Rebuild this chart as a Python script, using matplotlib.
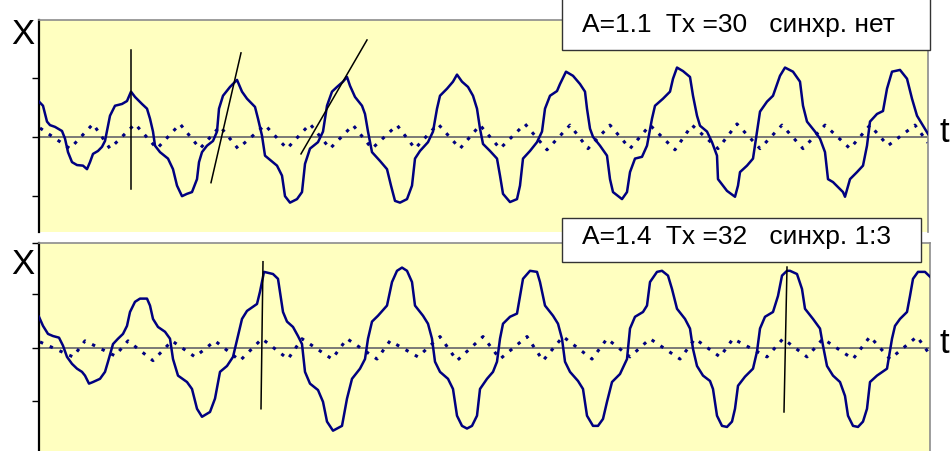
import matplotlib.pyplot as plt
from matplotlib.patches import Rectangle

plt.rcParams['font.family'] = ['Liberation Sans', 'DejaVu Sans']

# ==========================================
# DATA
# ==========================================

# top panel: A=1.1, Tx=30, no synchronisation
top_t = [
    0, 4, 8, 11, 16, 23, 26, 29, 33, 38,
    44, 48, 51, 54, 59, 63, 66, 68, 71, 76,
    83, 88, 92, 96, 103, 108, 111, 114, 116, 121,
    129, 134, 138, 143, 148, 153, 158, 160, 163, 168,
    174, 178, 180, 184, 191, 198, 203, 208, 216, 219,
    223, 226, 238, 243, 246, 251, 258, 263, 266, 271,
    279, 284, 288, 293, 298, 304, 308, 311, 316, 323,
    326, 329, 333, 341, 348, 352, 356, 361, 368, 373,
    376, 381, 389, 394, 398, 401, 408, 414, 418, 423,
    429, 434, 438, 441, 444, 451, 458, 461, 464, 471,
    478, 481, 484, 491, 498, 503, 506, 511, 518, 521,
    527, 534, 541, 546, 548, 551, 554, 561, 568, 571,
    574, 583, 588, 591, 596, 603, 608, 613, 616, 624,
    631, 634, 638, 644, 651, 654, 658, 661, 668, 673,
    678, 679, 688, 696, 699, 701, 708, 714, 718, 721,
    728, 734, 741, 746, 754, 761, 764, 768, 776, 781,
    786, 789, 794, 804, 806, 811, 818, 824, 828, 831,
    838, 844, 848, 853, 861, 868, 873, 878, 883, 889,
]
top_x = [
    0.60, 0.53, 0.26, 0.20, 0.17, 0.10, -0.03, -0.26, -0.43, -0.48,
    -0.49, -0.55, -0.43, -0.29, -0.24, -0.17, -0.07, 0.10, 0.36, 0.53,
    0.56, 0.61, 0.77, 0.68, 0.56, 0.48, 0.31, 0.09, -0.15, -0.26,
    -0.37, -0.55, -0.83, -1.01, -0.97, -0.94, -0.72, -0.43, -0.26, -0.15,
    -0.07, 0.09, 0.48, 0.70, 0.85, 0.97, 0.77, 0.65, 0.51, 0.31,
    0.02, -0.32, -0.49, -0.66, -1.01, -1.12, -1.06, -0.94, -0.46, -0.20,
    -0.09, 0.09, 0.53, 0.77, 0.85, 0.94, 1.02, 0.87, 0.68, 0.53,
    0.39, 0.09, -0.26, -0.41, -0.55, -0.83, -1.09, -1.12, -1.06, -0.83,
    -0.37, -0.24, -0.09, 0.09, 0.48, 0.70, 0.82, 0.94, 1.06, 0.94,
    0.85, 0.70, 0.48, 0.14, -0.12, -0.24, -0.37, -0.66, -0.97, -1.11,
    -1.06, -0.83, -0.37, -0.24, -0.09, 0.09, 0.48, 0.70, 0.78, 0.90,
    1.11, 1.04, 0.90, 0.77, 0.48, 0.14, 0.00, -0.15, -0.32, -0.72,
    -0.94, -1.06, -0.94, -0.60, -0.37, -0.34, -0.15, 0.31, 0.53, 0.65,
    0.77, 0.99, 1.18, 1.12, 1.02, 0.70, 0.36, 0.19, 0.09, -0.09,
    -0.32, -0.72, -0.92, -1.02, -0.83, -0.60, -0.49, -0.37, 0.09, 0.43,
    0.60, 0.70, 1.04, 1.18, 1.11, 0.94, 0.53, 0.26, 0.09, -0.03,
    -0.26, -0.72, -0.77, -0.94, -1.02, -0.72, -0.60, -0.49, -0.15, 0.26,
    0.39, 0.44, 0.82, 1.11, 1.14, 0.99, 0.65, 0.36, 0.22, 0.05,
]
top_force_t = [1, 31, 54, 71, 96, 118, 141, 161, 181, 199,
               226, 248, 271, 291, 314, 333, 358, 376, 399, 421,
               441, 461, 486, 508, 531, 549, 571, 591, 611, 636,
               653, 679, 698, 721, 743, 764, 786, 811, 831, 849,
               876, 889]
top_force_x = [0.15, -0.20, 0.22, -0.20, 0.22, -0.20, 0.22, -0.20, 0.18, -0.20,
               0.20, -0.20, 0.22, -0.20, 0.20, -0.20, 0.20, -0.20, 0.22, -0.20,
               0.20, -0.20, 0.22, -0.22, 0.20, -0.20, 0.20, -0.20, 0.20, -0.22,
               0.20, -0.20, 0.22, -0.20, 0.20, -0.20, 0.20, -0.20, 0.20, -0.15,
               0.20, -0.10]
# hand-drawn tangent lines: (t0, t1), (x0, x1)
top_marks_t = [(92, 92), (172, 202), (262, 328)]
top_marks_x = [(-0.89, 1.48), (-0.78, 1.43), (-0.29, 1.65)]

# bottom panel: A=1.4, Tx=32, synchronisation 1:3
bot_t = [
    0, 4, 9, 14, 20, 24, 28, 33, 38, 43,
    46, 50, 54, 61, 66, 69, 74, 79, 84, 88,
    91, 96, 101, 108, 111, 114, 119, 126, 131, 134,
    139, 148, 153, 158, 163, 171, 176, 181, 188, 194,
    199, 203, 208, 218, 221, 225, 234, 239, 244, 248,
    254, 259, 263, 266, 271, 279, 284, 288, 294, 303,
    308, 313, 321, 326, 329, 333, 339, 348, 353, 358,
    363, 368, 373, 376, 384, 389, 393, 396, 401, 409,
    414, 418, 423, 428, 433, 438, 441, 448, 454, 458,
    461, 464, 471, 478, 481, 484, 491, 498, 501, 506,
    514, 519, 523, 526, 531, 539, 544, 548, 554, 559,
    564, 568, 573, 581, 588, 591, 596, 604, 608, 611,
    618, 623, 629, 633, 638, 646, 651, 654, 658, 664,
    671, 674, 678, 683, 688, 693, 696, 699, 706, 714,
    718, 721, 726, 734, 739, 743, 748, 751, 758, 763,
    766, 774, 781, 784, 788, 794, 801, 806, 809, 814,
    819, 824, 828, 831, 838, 848, 853, 856, 861, 868,
    871, 874, 879, 886, 891,
]
bot_x = [
    0.58, 0.41, 0.26, 0.22, 0.19, 0.04, -0.17, -0.30, -0.39, -0.45,
    -0.52, -0.67, -0.64, -0.58, -0.45, -0.26, 0.07, 0.17, 0.26, 0.41,
    0.67, 0.86, 0.92, 0.92, 0.79, 0.54, 0.39, 0.30, 0.17, -0.21,
    -0.52, -0.64, -0.77, -1.14, -1.29, -1.20, -0.95, -0.45, -0.34, -0.17,
    0.22, 0.54, 0.69, 0.82, 1.05, 1.42, 1.38, 1.29, 0.67, 0.49,
    0.39, 0.22, 0.07, -0.45, -0.67, -0.79, -1.01, -1.38, -1.55, -1.46,
    -0.95, -0.58, -0.39, -0.21, 0.17, 0.49, 0.60, 0.79, 1.23, 1.44,
    1.50, 1.44, 1.23, 0.79, 0.60, 0.45, 0.17, -0.26, -0.45, -0.58,
    -0.77, -1.27, -1.46, -1.51, -1.46, -1.27, -0.77, -0.58, -0.45, -0.26,
    0.17, 0.45, 0.58, 0.64, 0.97, 1.29, 1.44, 1.42, 1.23, 0.79,
    0.60, 0.45, 0.17, -0.26, -0.45, -0.62, -0.77, -1.27, -1.46, -1.46,
    -1.33, -1.01, -0.64, -0.49, -0.21, 0.36, 0.58, 0.67, 0.79, 1.23,
    1.42, 1.44, 1.35, 1.10, 0.73, 0.54, 0.36, -0.02, -0.34, -0.52,
    -0.62, -0.77, -1.27, -1.46, -1.48, -1.38, -1.14, -0.71, -0.54, -0.39,
    -0.07, 0.36, 0.58, 0.67, 0.97, 1.35, 1.44, 1.44, 1.38, 1.10,
    0.73, 0.54, 0.36, 0.04, -0.34, -0.52, -0.64, -0.90, -1.27, -1.46,
    -1.48, -1.38, -1.14, -0.64, -0.52, -0.39, 0.17, 0.41, 0.54, 0.67,
    0.97, 1.29, 1.42, 1.42, 1.33,
]
bot_force_t = [1, 34, 46, 76, 89, 114, 133, 156, 176, 201,
               223, 249, 263, 293, 308, 338, 351, 379, 401, 418,
               444, 461, 488, 504, 524, 553, 568, 591, 611, 641,
               656, 681, 694, 728, 744, 768, 784, 814, 831, 851,
               878, 891]
bot_force_x = [0.11, -0.17, 0.13, -0.15, 0.13, -0.24, 0.13, -0.17, 0.13, -0.24,
               0.17, -0.21, 0.17, -0.21, 0.17, -0.21, 0.13, -0.17, 0.21, -0.24,
               0.21, -0.21, 0.21, -0.24, 0.21, -0.21, 0.17, -0.17, 0.17, -0.21,
               0.17, -0.17, 0.17, -0.17, 0.17, -0.17, 0.17, -0.21, 0.21, -0.21,
               0.21, -0.13]
bot_marks_t = [(222, 224), (745, 748)]
bot_marks_x = [(-1.14, 1.61), (-1.20, 1.51)]

top_label = "A=1.1  Tx =30   синхр. нет"
bot_label = "A=1.4  Tx =32   синхр. 1:3"

# ==========================================
# STYLE
# ==========================================

W, H = 953, 452
navy = "#000080"
panel_bg = "#FFFFC0"
frame_gray = "#8C8C8C"


def style_panel(ax, x_max, y_lim, yticks):
    ax.set_facecolor(panel_bg)
    ax.set_xlim(0, x_max)
    ax.set_ylim(*y_lim)
    ax.set_xticks([])
    ax.set_yticks(yticks)
    ax.set_yticklabels([])
    ax.tick_params(axis='y', direction='out', length=5, width=1, color='black')
    ax.spines['left'].set_color('black')
    ax.spines['left'].set_linewidth(1.6)
    ax.spines['top'].set_color(frame_gray)
    ax.spines['right'].set_color(frame_gray)
    ax.spines['top'].set_linewidth(1.2)
    ax.spines['right'].set_linewidth(1.2)
    ax.spines['bottom'].set_visible(False)
    ax.axhline(0, color='#707070', lw=1.3, zorder=1)


def draw_panel(ax, t, x, ft, fx, mt, mx):
    ax.plot(ft, fx, color=navy, lw=2.2, linestyle=(0, (1.1, 2.4)),
            dash_capstyle='butt', zorder=2)
    ax.plot(t, x, color=navy, lw=1.8, zorder=3)
    for a, b in zip(mt, mx):
        ax.plot(a, b, color='black', lw=1.1, zorder=4)


fig = plt.figure(figsize=(W / 100, H / 100), dpi=100)

# ==========================================
# TOP PANEL
# ==========================================

ax1 = fig.add_axes([39 / W, 1 - 233 / H, 889 / W, 212 / H])
style_panel(ax1, 889, (-1.62, 1.99), [-1, 0, 1])
draw_panel(ax1, top_t, top_x, top_force_t, top_force_x, top_marks_t, top_marks_x)

# ==========================================
# BOTTOM PANEL
# ==========================================

ax2 = fig.add_axes([39 / W, 0, 891 / W, 208 / H])
style_panel(ax2, 891, (-1.93, 1.96), [-1, 0, 1, 1.96])
draw_panel(ax2, bot_t, bot_x, bot_force_t, bot_force_x, bot_marks_t, bot_marks_x)

# ==========================================
# LABELS AND TEXT BOXES
# ==========================================

for yb in (44, 274):
    fig.text(11 / W, 1 - yb / H, "X", fontsize=25, va='baseline', ha='left')
for yb in (142, 353):
    fig.text(940 / W, 1 - yb / H, "t", fontsize=25, va='baseline', ha='left')

fig.patches.append(Rectangle((562 / W, 1 - 51 / H), 368 / W, 60 / H,
                             transform=fig.transFigure, facecolor='white',
                             edgecolor='#333333', lw=1, zorder=5))
fig.patches.append(Rectangle((562 / W, 1 - 263 / H), 359 / W, 44 / H,
                             transform=fig.transFigure, facecolor='white',
                             edgecolor='#333333', lw=1, zorder=5))
fig.text(582 / W, 1 - 32 / H, top_label, fontsize=19, va='baseline', ha='left', zorder=6)
fig.text(582 / W, 1 - 244 / H, bot_label, fontsize=19, va='baseline', ha='left', zorder=6)

fig.savefig("out.png", dpi=100)
